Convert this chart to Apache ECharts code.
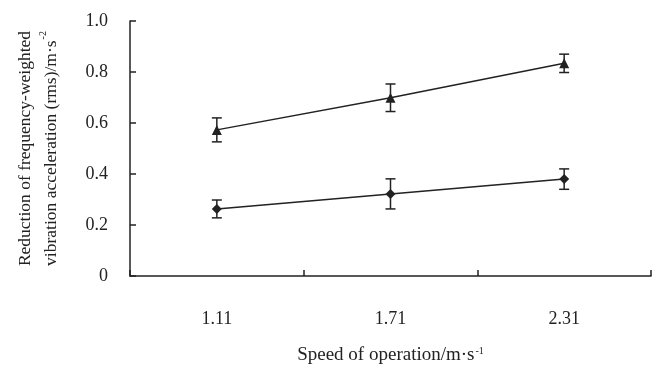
<!DOCTYPE html>
<html>
<head>
<meta charset="utf-8">
<script src="https://cdn.jsdelivr.net/npm/echarts@6/dist/echarts.min.js"></script>
<style>
  html, body { margin: 0; padding: 0; background: #fff; }
  #chart { width: 661px; height: 365px; }
</style>
</head>
<body>
<div id="chart"></div>
<script>
const speeds = ['1.11', '1.71', '2.31']
const triangleMean = [0.573, 0.699, 0.834]
const triangleErr = [0.047, 0.054, 0.036]
const diamondMean = [0.263, 0.322, 0.380]
const diamondErr = [0.035, 0.059, 0.040]
const yTicks = [0, 0.2, 0.4, 0.6, 0.8, 1.0]

const chart = echarts.init(document.getElementById('chart'))
const font = 'Liberation Serif'
const ink = '#222'

function errData(mean, err) {
    return mean.map((m, i) => [i, m - err[i], m + err[i]])
}

function renderErr(params, api) {
    const x = api.value(0)
    const lo = api.coord([x, api.value(1)])
    const hi = api.coord([x, api.value(2)])
    const w = 5
    const style = { stroke: ink, lineWidth: 1.5, fill: null }
    return {
        type: 'group',
        children: [
            { type: 'line', shape: { x1: lo[0], y1: lo[1], x2: hi[0], y2: hi[1] }, style: style },
            { type: 'line', shape: { x1: lo[0] - w, y1: lo[1], x2: lo[0] + w, y2: lo[1] }, style: style },
            { type: 'line', shape: { x1: hi[0] - w, y1: hi[1], x2: hi[0] + w, y2: hi[1] }, style: style }
        ]
    }
}

const supStyle = { fontFamily: font, fontSize: 10, color: ink, verticalAlign: 'top', padding: [0, 0, 9, 1] }

const option = {
    backgroundColor: '#fff',
    animation: false,
    grid: { left: 130, right: 10, top: 21, bottom: 89, outerBoundsMode: 'none', containLabel: false },
    xAxis: {
        type: 'category',
        data: speeds,
        boundaryGap: true,
        name: 'Speed of operation/m·s{sup|-1}',
        nameLocation: 'middle',
        nameGap: 70,
        nameTextStyle: {
            fontFamily: font, fontSize: 19, color: ink,
            rich: { sup: supStyle }
        },
        axisLine: { lineStyle: { color: ink, width: 1.5 } },
        axisTick: { show: true, inside: true, length: 6, lineStyle: { color: ink, width: 1.5 } },
        axisLabel: { fontFamily: font, fontSize: 18, color: ink, margin: 34 },
        splitLine: { show: false }
    },
    yAxis: {
        type: 'value',
        min: 0,
        max: 1.0,
        interval: 0.2,
        name: 'Reduction of frequency-weighted\nvibration acceleration (rms)/m·s{sup|-2}',
        nameLocation: 'middle',
        nameRotate: 90,
        nameGap: 66,
        nameTextStyle: {
            fontFamily: font, fontSize: 17.5, color: ink, lineHeight: 26,
            rich: { sup: supStyle }
        },
        axisLine: { show: true, lineStyle: { color: ink, width: 1.5 } },
        axisTick: { show: true, inside: true, length: 6, lineStyle: { color: ink, width: 1.5 } },
        axisLabel: {
            fontFamily: font, fontSize: 18, color: ink, margin: 22,
            formatter: v => {
                const t = yTicks.find(k => Math.abs(k - v) < 1e-9)
                return t === 0 ? '0' : t.toFixed(1)
            }
        },
        splitLine: { show: false }
    },
    series: [
        {
            name: 'triangle',
            type: 'line',
            data: triangleMean,
            symbol: 'triangle',
            symbolSize: 10,
            lineStyle: { color: ink, width: 1.5 },
            itemStyle: { color: ink },
            z: 3
        },
        {
            name: 'diamond',
            type: 'line',
            data: diamondMean,
            symbol: 'diamond',
            symbolSize: 10,
            lineStyle: { color: ink, width: 1.5 },
            itemStyle: { color: ink },
            z: 3
        },
        {
            type: 'custom',
            renderItem: renderErr,
            data: errData(triangleMean, triangleErr),
            encode: { x: 0, y: [1, 2] },
            z: 2
        },
        {
            type: 'custom',
            renderItem: renderErr,
            data: errData(diamondMean, diamondErr),
            encode: { x: 0, y: [1, 2] },
            z: 2
        }
    ]
}

chart.setOption(option)
</script>
</body>
</html>
